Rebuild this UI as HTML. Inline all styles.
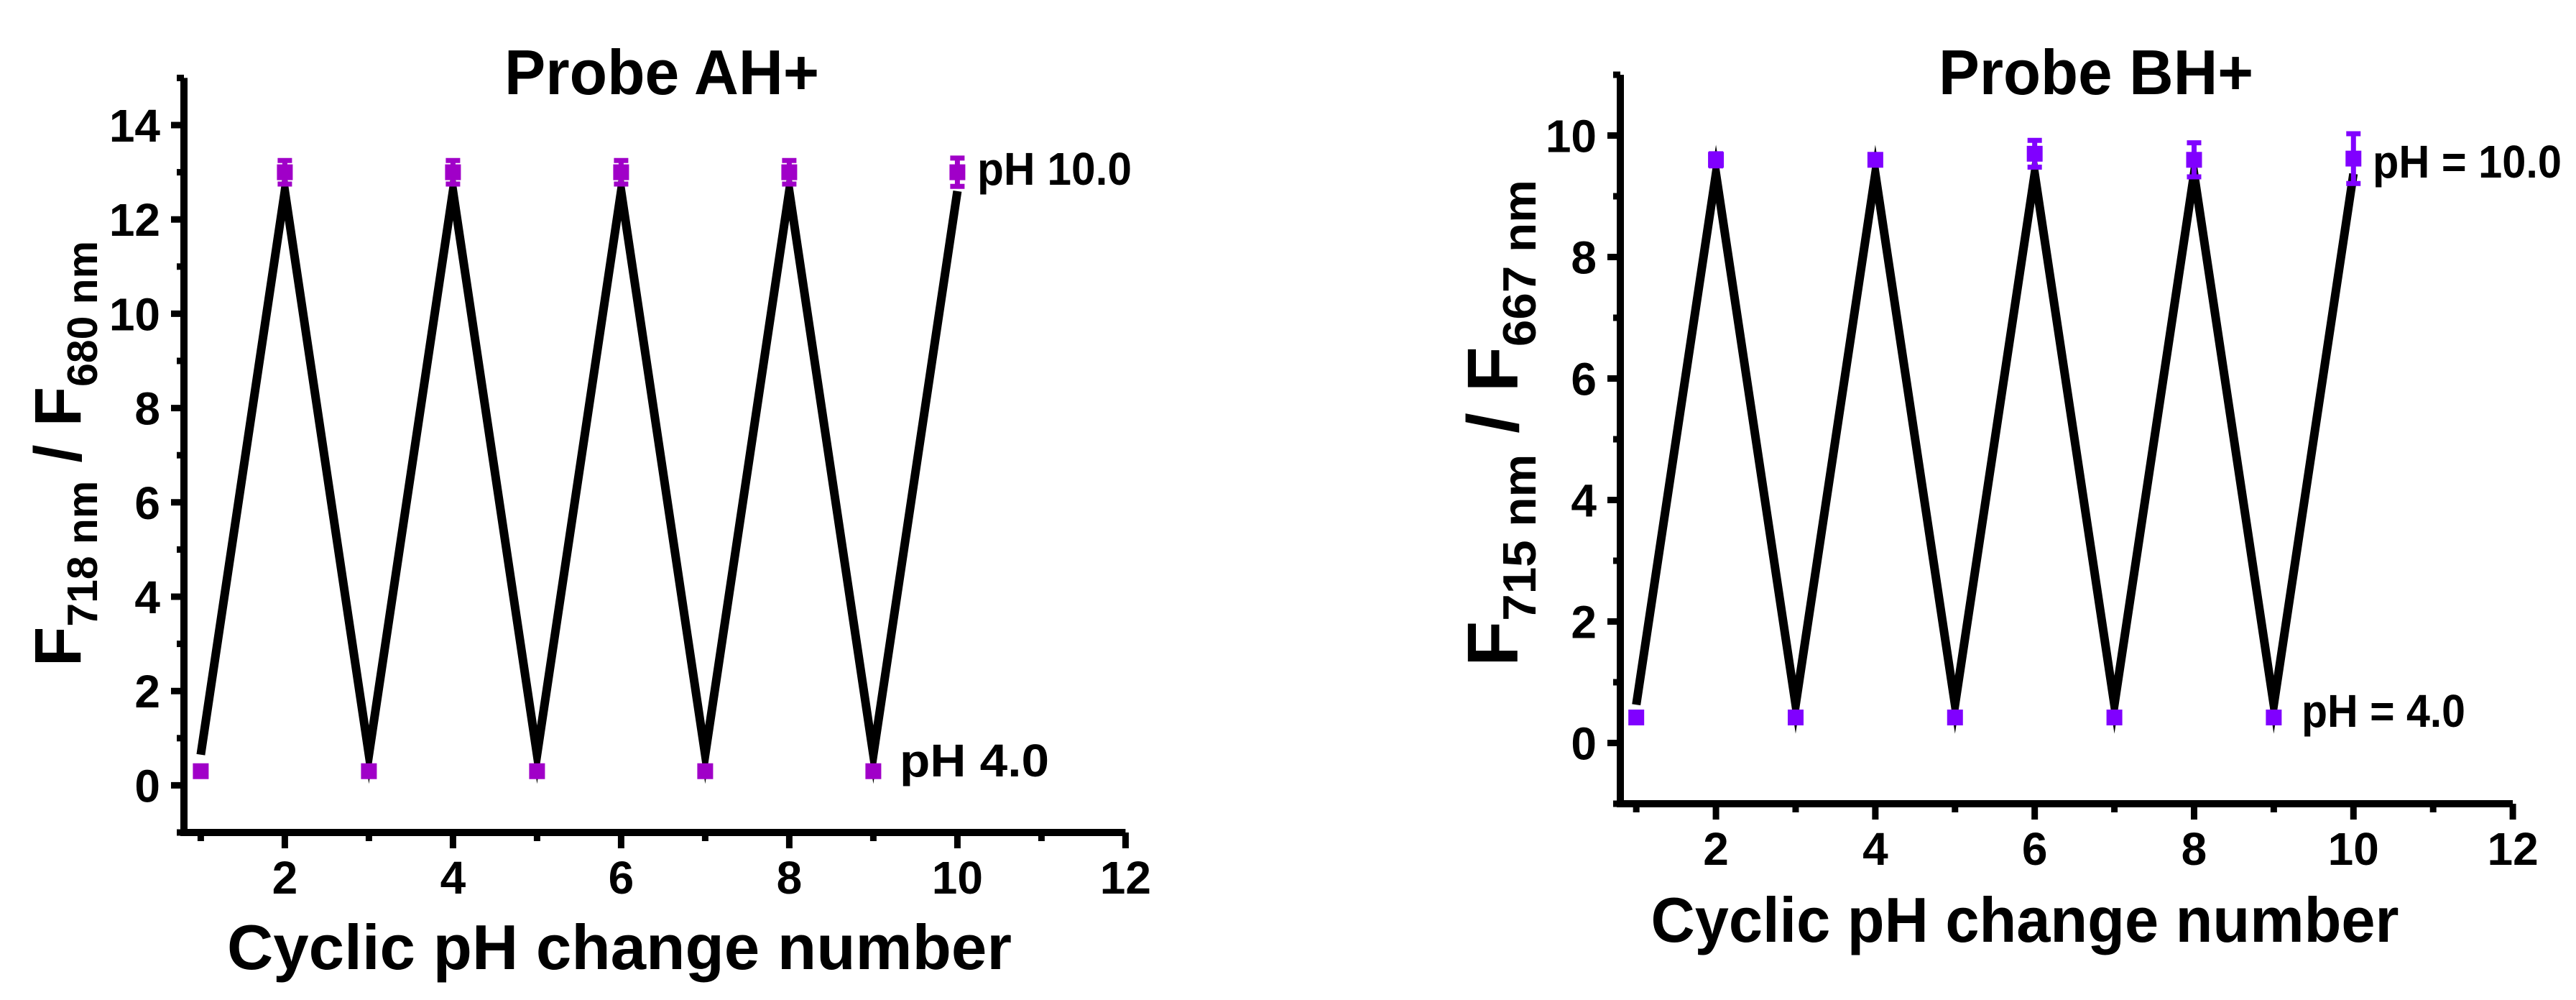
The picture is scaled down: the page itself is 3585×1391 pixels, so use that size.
<!DOCTYPE html>
<html><head><meta charset="utf-8"><title>Probe AH+ / BH+ cyclic pH</title>
<style>html,body{margin:0;padding:0;background:#fff}svg{display:block}text{font-family:"Liberation Sans",Arial,sans-serif;font-weight:bold;fill:#000}</style>
</head><body>
<svg id="fig" width="3585" height="1391" viewBox="0 0 3585 1391" xmlns="http://www.w3.org/2000/svg"></svg>
<script>
// ---- data: Probe AH+ ----
const cyclesA = [1,2,3,4,5,6,7,8,9,10];
const markerA = [0.3,13.0,0.3,13.0,0.3,13.0,0.3,13.0,0.3,13.0];
const errA    = [0,0.25,0,0.25,0,0.25,0,0.25,0,0.3];
const lineA   = [0.65,12.6,0.65,12.6,0.65,12.6,0.65,12.6,0.65,12.6];
const yTicksA = [0,2,4,6,8,10,12,14];
const xTicks  = [2,4,6,8,10,12];
// ---- data: Probe BH+ ----
const cyclesB = [1,2,3,4,5,6,7,8,9,10];
const markerB = [0.42,9.6,0.42,9.6,0.42,9.7,0.42,9.6,0.42,9.62];
const errB    = [0,0.1,0,0.05,0,0.22,0,0.28,0,0.41];
const lineB   = [0.63,9.37,0.63,9.37,0.63,9.37,0.63,9.37,0.63,9.37];
const yTicksB = [0,2,4,6,8,10];

const NS='http://www.w3.org/2000/svg';
const svg=document.getElementById('fig');
function mk(tag,attrs,parent){const e=document.createElementNS(NS,tag);for(const k in attrs)e.setAttribute(k,attrs[k]);(parent||svg).appendChild(e);return e;}

function chart(cfg){
  const g=mk('g',{});
  
  
  const X=v=>cfg.x0+(v-cfg.xmin)*cfg.ux;
  const Y=v=>cfg.y0-(v-cfg.ymin)*cfg.uy;
  const xr=X(cfg.xmax), yt=Y(cfg.ymax), yb=Y(cfg.ymin);
  const ax=mk('path',{d:`M${cfg.x0} ${yt} V${yb} H${xr}`,fill:'none',stroke:'#000','stroke-width':10,'stroke-linejoin':'miter'},g);
  
  
  for(let v=Math.ceil(cfg.ymin);v<=cfg.ymax;v++){
    const major=cfg.yTicks.includes(v);
    const t=mk('line',{x1:cfg.x0,x2:cfg.x0-(major?18:10),y1:Y(v),y2:Y(v),stroke:'#000','stroke-width':9},g);
    
    
    if(major){
      const l=mk('text',{x:cfg.x0-33,y:Y(v)+23,'text-anchor':'end','font-size':64},g);
      l.textContent=v;
      
      
    }
  }
  for(let v=1;v<=cfg.xmax;v++){
    const major=cfg.xTicks.includes(v);
    const t=mk('line',{x1:X(v),x2:X(v),y1:yb,y2:yb+(major?22:12),stroke:'#000','stroke-width':9},g);
    
    
    if(major){
      const l=mk('text',{x:X(v),y:yb+85,'text-anchor':'middle','font-size':64},g);
      l.textContent=v;
      
      
    }
  }
  const pts=cfg.cycles.map((c,i)=>X(c)+','+Y(cfg.line[i])).join(' ');
  const pl=mk('polyline',{points:pts,fill:'none',stroke:'#000','stroke-width':12,'stroke-linejoin':'miter','stroke-miterlimit':20},g);
  
  
  cfg.cycles.forEach((c,i)=>{
    const cx=X(c), cy=Y(cfg.marker[i]);
    if(cfg.err[i]>0){
      const e=cfg.err[i]*cfg.uy;
      const eb=mk('path',{d:`M${cx} ${cy-e} V${cy+e} M${cx-10} ${cy-e} H${cx+10} M${cx-10} ${cy+e} H${cx+10}`,stroke:cfg.color,'stroke-width':7,fill:'none'},g);
      
      
    }
    const r=mk('rect',{x:cx-11,y:cy-11,width:22,height:22,fill:cfg.color},g);
    
    
  });
  const tt=mk('text',{x:cfg.titleX,y:131,'text-anchor':'middle','font-size':88,textLength:438,lengthAdjust:'spacingAndGlyphs'},g);
  tt.textContent=cfg.title;
  
  
  const xl=mk('text',{x:cfg.xlX,y:cfg.xlY,'text-anchor':'middle','font-size':88,textLength:cfg.xlW,lengthAdjust:'spacingAndGlyphs'},g);
  xl.textContent='Cyclic pH change number';
  
  
  const yl=mk('text',{transform:`translate(${cfg.ylX},${cfg.ylB}) rotate(-90)`,x:0,y:0,'font-size':cfg.ylF,textLength:cfg.ylW,lengthAdjust:'spacingAndGlyphs'},g);
  yl.innerHTML=`F<tspan font-size="${cfg.ylF*0.65}" dy="${cfg.ylF*0.25}">${cfg.sub1} nm</tspan><tspan dy="${-cfg.ylF*0.25}"> / F</tspan><tspan font-size="${cfg.ylF*0.65}" dy="${cfg.ylF*0.25}">${cfg.sub2} nm</tspan>`;
  
  
  const a1=mk('text',{x:cfg.hiX,y:cfg.hiY,'font-size':64,textLength:cfg.hiW,lengthAdjust:'spacingAndGlyphs'},g);
  a1.textContent=cfg.hiText;
  
  
  const a2=mk('text',{x:cfg.loX,y:cfg.loY,'font-size':64,textLength:cfg.loW,lengthAdjust:'spacingAndGlyphs'},g);
  a2.textContent=cfg.loText;
  
  
}

chart({name:'chart-probe-ah',x0:256,y0:1158,xmin:0.8,xmax:12,ux:117,ymin:-1,ymax:15,uy:65.6,
  cycles:cyclesA,marker:markerA,err:errA,line:lineA,yTicks:yTicksA,xTicks:xTicks,color:'#A000C8',
  title:'Probe AH+',titleX:921,xlX:862,xlY:1348,xlW:1092,ylX:112,ylB:927,ylF:92,ylW:592,sub1:'718',sub2:'680',
  hiText:'pH 10.0',hiX:1360,hiY:257,hiW:215,loText:'pH 4.0',loX:1252,loY:1080,loW:208});
chart({name:'chart-probe-bh',x0:2255,y0:1118,xmin:0.8,xmax:12,ux:110.9,ymin:-1,ymax:11,uy:84.5,
  cycles:cyclesB,marker:markerB,err:errB,line:lineB,yTicks:yTicksB,xTicks:xTicks,color:'#8000FF',
  title:'Probe BH+',titleX:2917,xlX:2818,xlY:1310,xlW:1041,ylX:2112,ylB:927,ylF:100,ylW:677,sub1:'715',sub2:'667',
  hiText:'pH = 10.0',hiX:3302,hiY:247,hiW:263,loText:'pH = 4.0',loX:3203,loY:1011,loW:228});
</script>
</body></html>
